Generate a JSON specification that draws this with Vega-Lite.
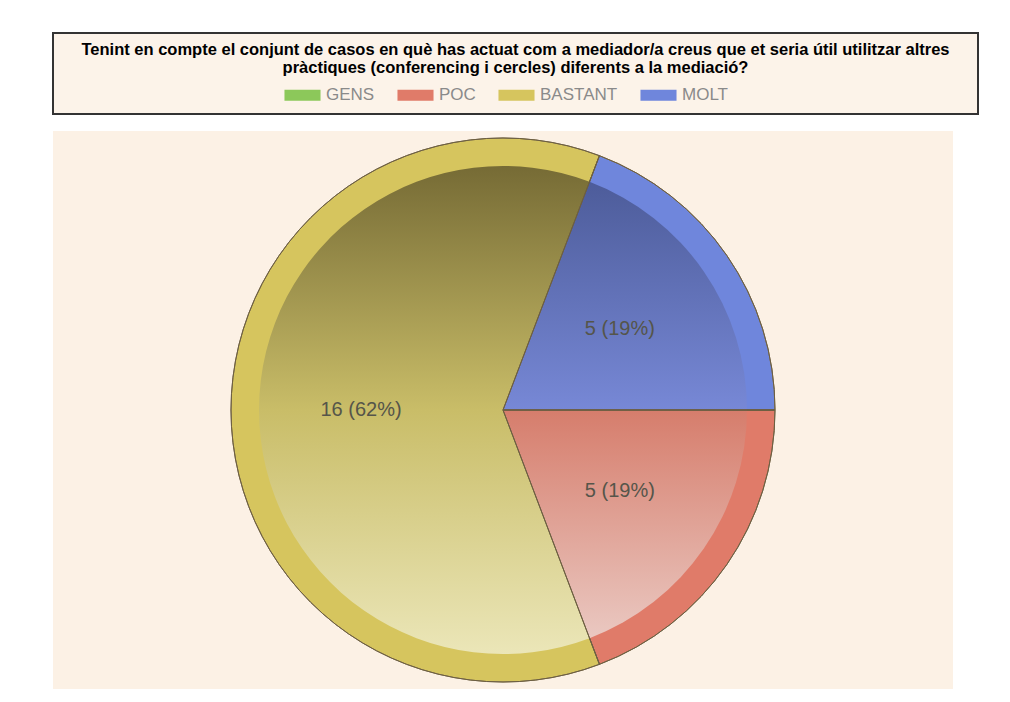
{
  "$schema": "https://vega.github.io/schema/vega-lite/v6.json",
  "autosize": {"type": "pad"},
  "padding": {"left": 52, "top": 32, "right": 33, "bottom": 14},
  "background": "#ffffff",
  "bounds": "flush",
  "spacing": 17,
  "vconcat": [
    {
      "width": 925,
      "height": 81,
      "view": {"fill": "#fcf3e9", "stroke": "#333333", "strokeWidth": 2},
      "title": {
        "text": ["Tenint en compte el conjunt de casos en què has actuat com a mediador/a creus que et seria útil utilitzar altres", "pràctiques (conferencing i cercles) diferents a la mediació?"],
        "orient": "top",
        "anchor": "middle",
        "frame": "group",
        "baseline": "top",
        "offset": -43,
        "font": "Liberation Sans, Arial, sans-serif",
        "fontSize": 16.5,
        "fontWeight": "bold",
        "color": "#000000",
        "lineHeight": 18
      },
      "mark": {"type": "text"},
      "encoding": {"text": {"value": ""}}
    },
    {
      "width": 900,
      "height": 558,
      "view": {"fill": "#fcf1e5", "stroke": null},
      "data": {
        "values": [
          {"resposta": "GENS", "ord": 1, "n": 0, "etiqueta": ""},
          {"resposta": "POC", "ord": 2, "n": 5, "etiqueta": "5 (19%)"},
          {"resposta": "BASTANT", "ord": 3, "n": 16, "etiqueta": "16 (62%)"},
          {"resposta": "MOLT", "ord": 4, "n": 5, "etiqueta": "5 (19%)"}
        ]
      },
      "transform": [
        {"stack": "n", "groupby": [], "sort": [{"field": "ord", "order": "ascending"}], "as": ["t0", "t1"]}
      ],
      "layer": [
        {
          "mark": {"type": "arc", "radius": 272, "stroke": "#7a6a4a", "strokeWidth": 1},
          "encoding": {
            "theta": {"field": "t0", "type": "quantitative", "scale": {"domain": [0, 26], "range": [1.5707963, 7.8539816]}},
            "theta2": {"field": "t1"},
            "color": {
              "field": "resposta",
              "type": "nominal",
              "scale": {"domain": ["GENS", "POC", "BASTANT", "MOLT"], "range": ["#8cc85a", "#e07b69", "#d6c55e", "#6f86dc"]},
              "legend": {
                "orient": "none",
                "legendX": 231,
                "legendY": 43.5,
                "direction": "horizontal",
                "title": null,
                "labelFont": "Liberation Sans, Arial, sans-serif",
                "labelFontSize": 17,
                "labelColor": "#8a8a8a",
                "labelOffset": 5,
                "symbolType": "M-1,-0.3H1V0.3H-1Z",
                "symbolSize": 1300,
                "symbolStrokeWidth": 0,
                "symbolOpacity": 1,
                "columnPadding": 22,
                "padding": 0
              }
            }
          }
        },
        {
          "transform": [{"filter": "datum.resposta === 'BASTANT'"}],
          "mark": {"type": "arc", "radius": 244, "fill": {"gradient": "linear", "x1": 0, "y1": 0, "x2": 0, "y2": 1, "stops": [{"offset": 0, "color": "#766b35"}, {"offset": 0.5, "color": "#c9bd68"}, {"offset": 1, "color": "#ebe6b8"}]}},
          "encoding": {
            "theta": {"field": "t0", "type": "quantitative", "scale": {"domain": [0, 26], "range": [1.5707963, 7.8539816]}},
            "theta2": {"field": "t1"}
          }
        },
        {
          "transform": [{"filter": "datum.resposta === 'MOLT'"}],
          "mark": {"type": "arc", "radius": 244, "fill": {"gradient": "linear", "x1": 0, "y1": 0, "x2": 0, "y2": 1, "stops": [{"offset": 0, "color": "#4d5c9a"}, {"offset": 1, "color": "#7788d6"}]}},
          "encoding": {
            "theta": {"field": "t0", "type": "quantitative", "scale": {"domain": [0, 26], "range": [1.5707963, 7.8539816]}},
            "theta2": {"field": "t1"}
          }
        },
        {
          "transform": [{"filter": "datum.resposta === 'POC'"}],
          "mark": {"type": "arc", "radius": 244, "fill": {"gradient": "linear", "x1": 0, "y1": 0, "x2": 0, "y2": 1, "stops": [{"offset": 0, "color": "#d67d6c"}, {"offset": 1, "color": "#eac8c1"}]}},
          "encoding": {
            "theta": {"field": "t0", "type": "quantitative", "scale": {"domain": [0, 26], "range": [1.5707963, 7.8539816]}},
            "theta2": {"field": "t1"}
          }
        },
        {
          "mark": {"type": "arc", "radius": 272, "fillOpacity": 0, "stroke": "#6d5f42", "strokeWidth": 1},
          "encoding": {
            "theta": {"field": "t0", "type": "quantitative", "scale": {"domain": [0, 26], "range": [1.5707963, 7.8539816]}},
            "theta2": {"field": "t1"}
          }
        },
        {
          "mark": {"type": "text", "radius": 142, "fontSize": 20, "font": "Liberation Sans, Arial, sans-serif", "color": "#55554a"},
          "encoding": {
            "theta": {"field": "n", "type": "quantitative", "stack": true, "scale": {"domain": [0, 26], "range": [1.5707963, 7.8539816]}},
            "order": {"field": "ord", "type": "quantitative"},
            "text": {"field": "etiqueta", "type": "nominal"}
          }
        }
      ]
    }
  ]
}
